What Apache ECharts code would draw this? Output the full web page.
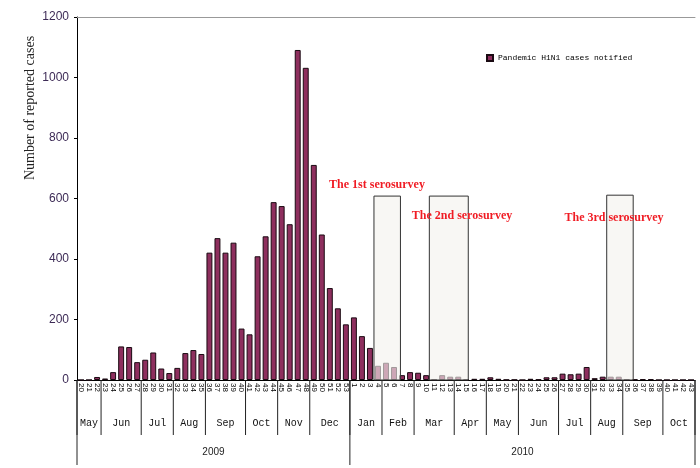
<!DOCTYPE html>
<html><head><meta charset="utf-8">
<script src="https://cdn.jsdelivr.net/npm/echarts@6/dist/echarts.min.js"></script>
<style>html,body{margin:0;padding:0;background:#fff}#c{width:700px;height:468px}</style>
</head><body><div id="c"></div>
<script>
// ---- data ----
const weekLabels = ['20','21','22','23','24','25','26','27','28','29','30','31','32','33','34','35','36','37','38','39','40','41','42','43','44','45','46','47','48','49','50','51','52','53',
  '1','2','3','4','5','6','7','8','9','10','11','12','13','14','15','16','17','18','19','20','21','22','23','24','25','26','27','28','29','30','31','32','33','34','35','36','37','38','39','40','41','42','43'];
const weekCases = [0,0,10,5,26,111,109,59,67,91,38,23,40,89,99,86,421,469,421,454,170,151,409,475,588,575,515,1091,1032,711,481,304,237,184,
  207,145,106,47,57,43,16,26,24,16,2,16,11,11,2,4,4,9,4,1,1,0,4,2,9,9,21,19,21,43,6,11,11,11,2,2,3,3,0,0,0,0,0];
const monthNames = ['May','Jun','Jul','Aug','Sep','Oct','Nov','Dec','Jan','Feb','Mar','Apr','May','Jun','Jul','Aug','Sep','Oct'];
const monthWeeks = [3,5,4,4,5,4,4,5,4,4,5,4,4,5,4,4,5,4];
const yearNames = ['2009','2010'];
const yearWeeks = [34,43];
const surveyNames = ['The 1st serosurvey','The 2nd serosurvey','The 3rd serosurvey'];
const surveyStart = [37.0, 43.9, 66.0];
const surveyEnd = [40.3, 48.75, 69.3];
const surveyTop = [608, 608, 611];
const seriesName = 'Pandemic H1N1 cases notified';

// ---- helpers ----
function spans(counts){ let s=0; return counts.map(n=>{const r=[s,n]; s+=n; return r;}); }
const monthData = spans(monthWeeks);
const yearData = spans(yearWeeks);

function levelRenderer(names, lineLen, textOff, font, color){
  return function(params, api){
    const s = api.value(0), n = api.value(1);
    const bw = api.size([1,0])[0];
    const base = api.coord([0,0]);
    const x0 = base[0] - bw/2 + s*bw, x1 = x0 + n*bw;
    const y = base[1];
    const children = [
      {type:'line', shape:{x1:x0,y1:y,x2:x0,y2:y+lineLen}, style:{stroke:'#222',lineWidth:1}},
      {type:'text', x:(x0+x1)/2, y:y+textOff, style:{text:names[params.dataIndex], font:font, fill:color, align:'center', verticalAlign:'middle'}}
    ];
    if (params.dataIndex === names.length-1) {
      children.push({type:'line', shape:{x1:x1,y1:y,x2:x1,y2:y+lineLen}, style:{stroke:'#222',lineWidth:1}});
    }
    return {type:'group', children};
  };
}

const chart = echarts.init(document.getElementById('c'));
chart.setOption({
  animation:false,
  backgroundColor:'#fff',
  grid:{left:77, right:5, top:17, bottom:88, containLabel:false},
  legend:{data:[seriesName], left:481, top:49, icon:'rect', itemWidth:6, itemHeight:6,
    textStyle:{fontSize:8, fontFamily:'Liberation Mono', color:'#000'}},
  xAxis:[
    {type:'category', data:weekLabels, position:'bottom', boundaryGap:true,
     axisLine:{lineStyle:{color:'#000', width:1}},
     axisTick:{interval:0, length:23, lineStyle:{color:'#666'}},
     axisLabel:{interval:0, rotate:-90, fontSize:8, margin:3, color:'#000', fontFamily:'Liberation Sans'}},
    {type:'category', data:weekLabels, position:'top',
     axisLine:{lineStyle:{color:'#999'}}, axisTick:{show:false}, axisLabel:{show:false}}
  ],
  yAxis:{type:'value', min:0, max:1200, interval:200,
    axisLine:{show:true, lineStyle:{color:'#000'}},
    axisTick:{show:true, length:3, lineStyle:{color:'#000'}},
    splitLine:{show:false},
    axisLabel:{color:'#3d2b56', fontSize:12, fontFamily:'Liberation Sans', margin:8, formatter:function(v){return String(v);}}},
  series:[
    {type:'bar', name:seriesName, data:weekCases, xAxisIndex:0, barWidth:'74%', z:2,
     itemStyle:{color:'#8e2f5e', borderColor:'#1a0a12', borderWidth:1}},
    {type:'custom', xAxisIndex:0, z:5, silent:true, clip:false,
     data: surveyStart.map((s,i)=>[s, surveyEnd[i], surveyTop[i]]),
     encode:{x:0, y:2},
     renderItem:function(params, api){
       const bw = api.size([1,0])[0];
       const c0 = api.coord([0, api.value(2)]);
       const base = api.coord([0,0]);
       const xa = c0[0] - bw/2 + api.value(0)*bw;
       const xb = c0[0] - bw/2 + api.value(1)*bw;
       return {type:'rect', shape:{x:xa, y:c0[1], width:xb-xa, height:base[1]-c0[1]},
         style:{fill:'rgba(243,242,237,0.62)', stroke:'#333', lineWidth:1}};
     }},
    {type:'custom', xAxisIndex:0, z:1, silent:true, clip:false, data:monthData, encode:{x:0,y:1},
     renderItem: levelRenderer(monthNames, 55, 43, '10px "Liberation Mono"', '#111')},
    {type:'custom', xAxisIndex:0, z:1, silent:true, clip:false, data:yearData, encode:{x:0,y:1},
     renderItem: levelRenderer(yearNames, 85, 72, '10px "Liberation Sans"', '#222')}
  ],
  graphic:[
    {type:'text', z:100, x:30, y:108, rotation:Math.PI/2, style:{text:'Number of reported cases', font:'14px "Liberation Serif"', fill:'#222', align:'center', verticalAlign:'middle'}},
    {type:'text', z:100, x:377, y:185, style:{text:surveyNames[0], font:'bold 12px "Liberation Serif"', fill:'#f01c24', align:'center', verticalAlign:'middle'}},
    {type:'text', z:100, x:462, y:216, style:{text:surveyNames[1], font:'bold 12px "Liberation Serif"', fill:'#f01c24', align:'center', verticalAlign:'middle'}},
    {type:'text', z:100, x:614, y:218, style:{text:surveyNames[2], font:'bold 12px "Liberation Serif"', fill:'#f01c24', align:'center', verticalAlign:'middle'}}
  ]
});
</script></body></html>
